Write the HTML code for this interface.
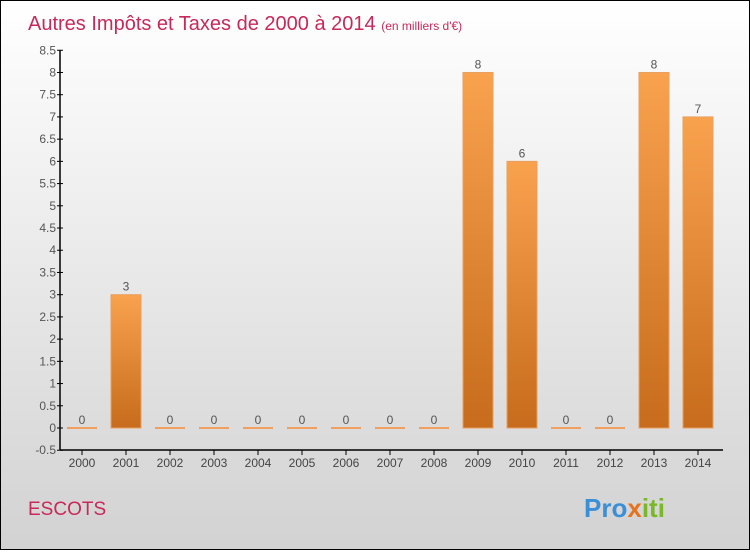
<!DOCTYPE html>
<html><head><meta charset="utf-8"><style>
body{margin:0;width:750px;height:550px;overflow:hidden;font-family:"Liberation Sans",sans-serif}
#c{position:absolute;left:0;top:0;width:748px;height:548px;border:1px solid #000;background:linear-gradient(#ffffff,#d2d2d2)}
</style></head><body>
<div id="c">
<svg width="748" height="548" id="svg">
<defs><linearGradient id="bg" x1="0" y1="0" x2="0" y2="1"><stop offset="0" stop-color="#f9a24e"/><stop offset="1" stop-color="#c66c1c"/></linearGradient></defs>
<text x="27" y="29" font-size="20" fill="#c8285a">Autres Impôts et Taxes de 2000 à 2014 <tspan font-size="12">(en milliers d'€)</tspan></text>
<text x="27" y="514" font-size="19" fill="#c8285a">ESCOTS</text>
<text x="583" y="516" font-size="26" font-weight="bold"><tspan fill="#3a8fd6">Pro</tspan><tspan fill="#e8721c">x</tspan><tspan fill="#7ab828">iti</tspan></text>
<g id="g"></g>
</svg></div>
<script>
const years=["2000","2001","2002","2003","2004","2005","2006","2007","2008","2009","2010","2011","2012","2013","2014"];
const values=[0,3,0,0,0,0,0,0,0,8,6,0,0,8,7];
const ticks=[-0.5,0,0.5,1,1.5,2,2.5,3,3.5,4,4.5,5,5.5,6,6.5,7,7.5,8,8.5];
const ns="http://www.w3.org/2000/svg",g=document.getElementById('g');
const y=v=>427-v*44.44, x=i=>81+i*44;
function mk(t,a,txt){const e=document.createElementNS(ns,t);for(const k in a)e.setAttribute(k,a[k]);if(txt!=null)e.textContent=txt;g.appendChild(e);return e;}
let e=mk('line',{x1:59,y1:49,x2:59,y2:449,stroke:'#000','stroke-width':1.5});

e=mk('line',{x1:59,y1:449,x2:722,y2:449,stroke:'#000','stroke-width':1.5});

ticks.forEach(t=>{const yy=y(t);
e=mk('line',{x1:56,y1:yy,x2:62,y2:yy,stroke:'#000'});
e=mk('text',{x:55,y:yy+4,'font-size':12,fill:'#555','text-anchor':'end'},String(t));});
years.forEach((yr,i)=>{const cx=x(i),v=values[i];
e=mk('line',{x1:cx,y1:449,x2:cx,y2:454,stroke:'#000'});
e=mk('text',{x:cx,y:466,'font-size':12,fill:'#444','text-anchor':'middle'},yr);
if(v>0){e=mk('rect',{x:cx-15,y:y(v),width:30,height:y(0)-y(v),fill:'url(#bg)',stroke:'#e8a060','stroke-width':1});}
else{e=mk('rect',{x:cx-15,y:y(0)-1,width:30,height:2,fill:'#f0a060'});}

e=mk('text',{x:cx,y:y(v)-4,'font-size':12,fill:'#555','text-anchor':'middle'},String(v));});
</script>
</body></html>
